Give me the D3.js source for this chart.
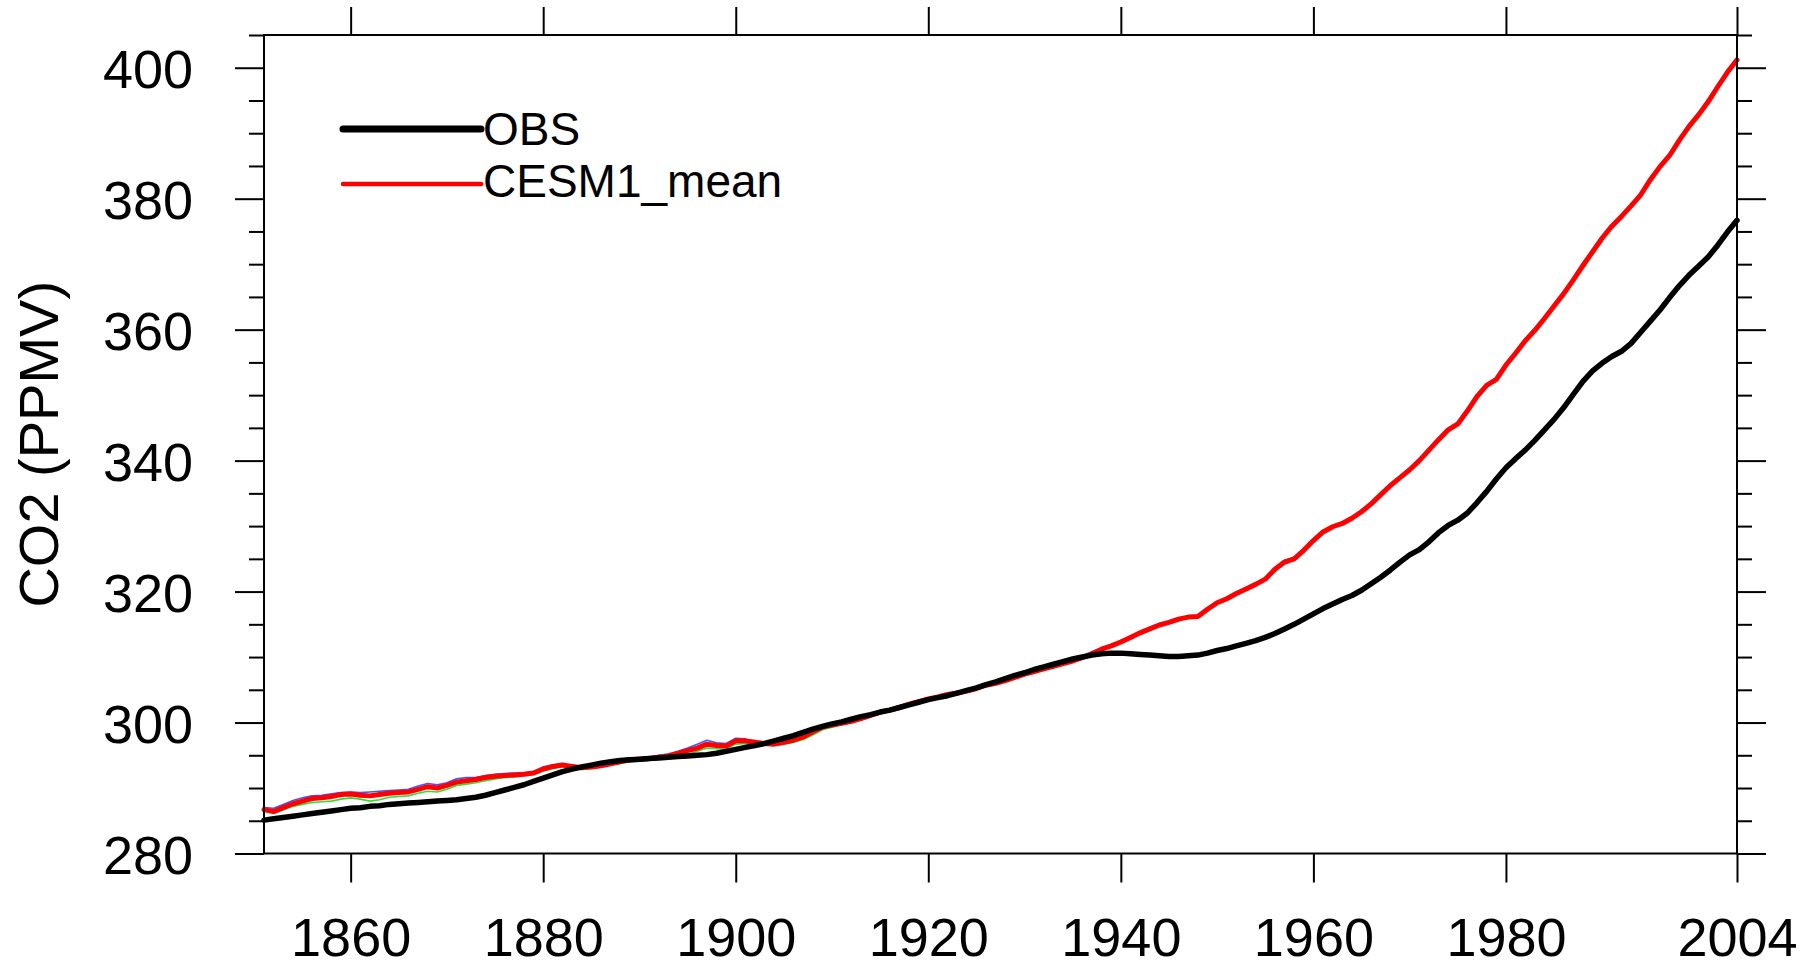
<!DOCTYPE html>
<html>
<head>
<meta charset="utf-8">
<script src="https://cdn.jsdelivr.net/npm/d3@7"></script>
<style>
  html, body { margin: 0; padding: 0; background: #fff; }
  svg { display: block; }
  text { font-family: "Liberation Sans", Arial, Helvetica, sans-serif; fill: #000; }
</style>
</head>
<body>
<svg id="chart" width="1814" height="968"></svg>
<script>
// Annual CO2 concentration (ppmv), 1851-2004
const startYear = 1851;
const endYear = 2004;

const obs = [
  285.1, 285.3, 285.5, 285.7, 285.9, 286.1, 286.3, 286.5, 286.7, 286.9,
  287.0, 287.2, 287.3, 287.5, 287.6, 287.7, 287.8, 287.9, 288.0, 288.1,
  288.2, 288.4, 288.6, 288.9, 289.3, 289.7, 290.1, 290.5, 291.0, 291.5,
  292.0, 292.5, 292.9, 293.2, 293.5, 293.8, 294.0, 294.2, 294.3, 294.4,
  294.5, 294.6, 294.7, 294.8, 294.9, 295.0, 295.1, 295.3, 295.6, 295.9,
  296.2, 296.5, 296.8, 297.2, 297.6, 298.0, 298.5, 299.0, 299.4, 299.8,
  300.1, 300.5, 300.9, 301.2, 301.6, 301.9, 302.3, 302.7, 303.1, 303.5,
  303.8, 304.1, 304.5, 304.9, 305.3, 305.8, 306.2, 306.7, 307.2, 307.6,
  308.1, 308.5, 308.9, 309.3, 309.7, 310.0, 310.3, 310.5, 310.6, 310.6,
  310.5, 310.4, 310.3, 310.2, 310.1, 310.1, 310.2, 310.3, 310.6, 311.0,
  311.3, 311.7, 312.1, 312.5, 313.0, 313.6, 314.3, 315.0, 315.8, 316.6,
  317.4, 318.1, 318.8, 319.4, 320.2, 321.2, 322.2, 323.3, 324.5, 325.6,
  326.4, 327.6, 329.0, 330.1, 330.9, 332.0, 333.6, 335.3, 337.2, 338.9,
  340.3, 341.6, 343.1, 344.7, 346.3, 348.1, 350.1, 352.1, 353.7, 354.9,
  355.9, 356.7, 357.9, 359.6, 361.3, 363.0, 364.9, 366.7, 368.3, 369.7,
  371.1, 372.9, 374.9, 376.7
];

const cesmMean = [
  286.7, 286.4, 287.0, 287.6, 288.0, 288.4, 288.5, 288.7, 289.0, 289.1,
  288.9, 288.8, 289.0, 289.2, 289.3, 289.4, 289.8, 290.2, 290.0, 290.4,
  290.9, 291.1, 291.3, 291.6, 291.8, 291.9, 292.0, 292.1, 292.3, 292.9,
  293.3, 293.5, 293.3, 293.1, 293.2, 293.4, 293.7, 294.0, 294.3, 294.4,
  294.5, 294.7, 294.9, 295.3, 295.7, 296.1, 296.7, 296.5, 296.4, 297.2,
  297.2, 297.0, 296.8, 296.7, 297.0, 297.3, 297.8, 298.6, 299.3, 299.6,
  299.9, 300.2, 300.6, 301.1, 301.6, 301.9, 302.3, 302.8, 303.2, 303.6,
  303.9, 304.3, 304.5, 304.8, 305.2, 305.7, 306.0, 306.4, 306.9, 307.4,
  307.8, 308.2, 308.6, 309.0, 309.4, 309.9, 310.5, 311.2, 311.7, 312.3,
  313.0, 313.7, 314.3, 314.9, 315.3, 315.8, 316.1, 316.2, 317.3, 318.3,
  318.9, 319.7, 320.4, 321.1, 321.9, 323.4, 324.5, 325.0, 326.3, 327.8,
  329.1, 329.9, 330.4, 331.2, 332.2, 333.4, 334.8, 336.2, 337.4, 338.6,
  340.0, 341.6, 343.2, 344.7, 345.6, 347.6, 349.8, 351.5, 352.4, 354.6,
  356.4, 358.3, 359.9, 361.7, 363.6, 365.5, 367.6, 369.8, 371.9, 374.0,
  375.8, 377.3, 378.9, 380.6, 382.9, 384.9, 386.6, 388.9, 391.0, 392.8,
  394.8, 397.1, 399.3, 401.2
];

// individual ensemble members drawn thin beneath the mean
const member1 = [
  287.0, 286.9, 287.5, 288.1, 288.5, 288.8, 288.9, 289.1, 289.3, 289.4,
  289.3, 289.4, 289.5, 289.6, 289.7, 289.8, 290.3, 290.7, 290.5, 290.8,
  291.4, 291.6, 291.6, 291.9, 292.1, 292.2, 292.3, 292.3, 292.5, 293.2,
  293.5, 293.7, 293.4, 293.1, 293.1, 293.4, 293.8, 294.4, 294.6, 294.5,
  294.7, 295.0, 295.2, 295.6, 296.1, 296.7, 297.3, 296.9, 296.8, 297.6,
  297.5, 297.1, 296.9, 296.8, 297.1, 297.4, 297.9, 298.7, 299.4, 299.7,
  300.0, 300.3, 300.7, 301.2, 301.7, 302.0, 302.4, 302.9, 303.3, 303.7,
  304.0, 304.4, 304.6, 304.9, 305.3, 305.8, 306.1, 306.5, 307.0, 307.5,
  307.9, 308.3, 308.7, 309.1, 309.6, 310.2, 310.8, 311.4, 311.8, 312.4,
  313.1, 313.8, 314.4, 315.0, 315.4, 315.9, 316.2, 316.3, 317.4, 318.4,
  319.0, 319.8, 320.5, 321.2, 322.0, 323.6, 324.8, 325.2, 326.5, 328.0,
  329.3, 330.0, 330.6, 331.4, 332.4, 333.6, 335.0, 336.4, 337.6, 338.8,
  340.2, 341.8, 343.4, 344.9, 345.8, 347.8, 350.0, 351.7, 352.6, 354.8,
  356.6, 358.5, 360.1, 361.9, 363.8, 365.7, 367.8, 370.0, 372.1, 374.2,
  376.0, 377.5, 379.1, 380.6, 382.9, 384.9, 386.6, 388.9, 391.0, 392.8,
  394.8, 397.1, 399.3, 401.2
];

const member2 = [
  286.5, 286.2, 286.7, 287.2, 287.5, 287.8, 287.9, 288.0, 288.3, 288.5,
  288.3, 288.0, 288.2, 288.6, 288.7, 288.8, 289.2, 289.5, 289.4, 289.8,
  290.4, 290.6, 290.8, 291.1, 291.4, 291.6, 291.7, 291.9, 292.1, 292.6,
  293.0, 293.3, 293.2, 293.0, 293.0, 293.2, 293.5, 293.8, 294.0, 294.1,
  294.2, 294.4, 294.6, 294.9, 295.2, 295.6, 296.1, 296.0, 295.9, 296.7,
  296.8, 296.7, 296.6, 296.5, 296.7, 297.0, 297.4, 298.1, 298.9, 299.3,
  299.7, 300.0, 300.4, 300.9, 301.4, 301.7, 302.1, 302.6, 303.0, 303.4,
  303.7, 304.1, 304.4, 304.7, 305.1, 305.6, 305.9, 306.3, 306.8, 307.3,
  307.7, 308.1, 308.5, 308.9, 309.3, 309.8, 310.3, 311.0, 311.6, 312.2,
  312.9, 313.6, 314.2, 314.8, 315.2, 315.7, 316.0, 316.1, 317.2, 318.2,
  318.8, 319.6, 320.3, 321.0, 321.8, 323.2, 324.3, 324.9, 326.2, 327.7,
  329.0, 329.8, 330.3, 331.1, 332.1, 333.3, 334.7, 336.1, 337.3, 338.5,
  339.9, 341.5, 343.1, 344.6, 345.6, 347.6, 349.8, 351.5, 352.4, 354.6,
  356.4, 358.3, 359.9, 361.7, 363.6, 365.5, 367.6, 369.8, 371.9, 374.0,
  375.9, 377.4, 379.0, 380.8, 383.0, 385.0, 386.7, 389.0, 391.1, 392.9,
  394.9, 397.2, 399.4, 401.2
];

const xTickValues = [1860, 1880, 1900, 1920, 1940, 1960, 1980, 2004];
const yMajorTicks = [280, 300, 320, 340, 360, 380, 400];
const yMinorTicks = [285, 290, 295, 305, 310, 315, 325, 330, 335, 345, 350, 355, 365, 370, 375, 385, 390, 395, 405];

const legendItems = [
  { label: "OBS", color: "#000000", width: 7 },
  { label: "CESM1_mean", color: "#ff0000", width: 4.5 }
];

const years = d3.range(startYear, endYear + 1);

const svg = d3.select("#chart");
const plot = { left: 264, right: 1737, top: 35, bottom: 853.5 };

const x = d3.scaleLinear().domain([startYear, endYear]).range([plot.left, plot.right]);
const y = d3.scaleLinear().domain([280, 405]).range([plot.bottom, plot.top]);

const line = d3.line()
  .x((d, i) => x(years[i]))
  .y(d => y(d));

const lines = svg.append("g").attr("fill", "none")
  .attr("stroke-linejoin", "round").attr("stroke-linecap", "round");

lines.append("path").datum(member2).attr("d", line)
  .attr("stroke", "#33dd33").attr("stroke-width", 1.6);
lines.append("path").datum(member1).attr("d", line)
  .attr("stroke", "#4455ff").attr("stroke-width", 1.6);
lines.append("path").datum(cesmMean).attr("d", line)
  .attr("stroke", "#ff0000").attr("stroke-width", 5);
lines.append("path").datum(obs).attr("d", line)
  .attr("stroke", "#000000").attr("stroke-width", 5.5);

// axes: ticks point outward on all four sides
function styleAxis(g) {
  g.select(".domain").remove();
  g.selectAll(".tick line").attr("stroke", "#000").attr("stroke-width", 2);
}

const bottom = svg.append("g")
  .attr("transform", `translate(0,${plot.bottom})`)
  .call(d3.axisBottom(x).tickValues(xTickValues).tickSize(29).tickFormat(d3.format("d")))
  .call(styleAxis);
bottom.selectAll(".tick text")
  .attr("y", 102.5).attr("dy", null)
  .style("font-size", "54px");

svg.append("g")
  .attr("transform", `translate(0,${plot.top})`)
  .call(d3.axisTop(x).tickValues(xTickValues).tickSize(28).tickFormat(""))
  .call(styleAxis);

const left = svg.append("g")
  .attr("transform", `translate(${plot.left},0)`)
  .call(d3.axisLeft(y).tickValues(yMajorTicks).tickSize(29).tickPadding(42).tickFormat(d3.format("d")))
  .call(styleAxis);
left.selectAll(".tick text")
  .attr("dy", "0.375em")
  .style("font-size", "54px");

svg.append("g")
  .attr("transform", `translate(${plot.left},0)`)
  .call(d3.axisLeft(y).tickValues(yMinorTicks).tickSize(15).tickFormat(""))
  .call(styleAxis);

svg.append("g")
  .attr("transform", `translate(${plot.right},0)`)
  .call(d3.axisRight(y).tickValues(yMajorTicks).tickSize(29).tickFormat(""))
  .call(styleAxis);

svg.append("g")
  .attr("transform", `translate(${plot.right},0)`)
  .call(d3.axisRight(y).tickValues(yMinorTicks).tickSize(15).tickFormat(""))
  .call(styleAxis);

// plot frame
svg.append("rect")
  .attr("x", plot.left).attr("y", plot.top)
  .attr("width", plot.right - plot.left).attr("height", plot.bottom - plot.top)
  .attr("fill", "none").attr("stroke", "#000").attr("stroke-width", 2);

// y-axis title
svg.append("text")
  .attr("transform", `translate(58,${(plot.top + plot.bottom) / 2}) rotate(-90)`)
  .attr("text-anchor", "middle")
  .style("font-size", "56px")
  .text("CO2 (PPMV)");

// legend
const legend = svg.append("g");
const legendRows = [129, 184];
const legendBaselines = [145, 197];
legendItems.forEach((item, i) => {
  legend.append("line")
    .attr("x1", 343).attr("x2", 481)
    .attr("y1", legendRows[i]).attr("y2", legendRows[i])
    .attr("stroke", item.color).attr("stroke-width", item.width)
    .attr("stroke-linecap", "round");
  legend.append("text")
    .attr("x", 483).attr("y", legendBaselines[i])
    .style("font-size", "46px")
    .text(item.label);
});
</script>
</body>
</html>
